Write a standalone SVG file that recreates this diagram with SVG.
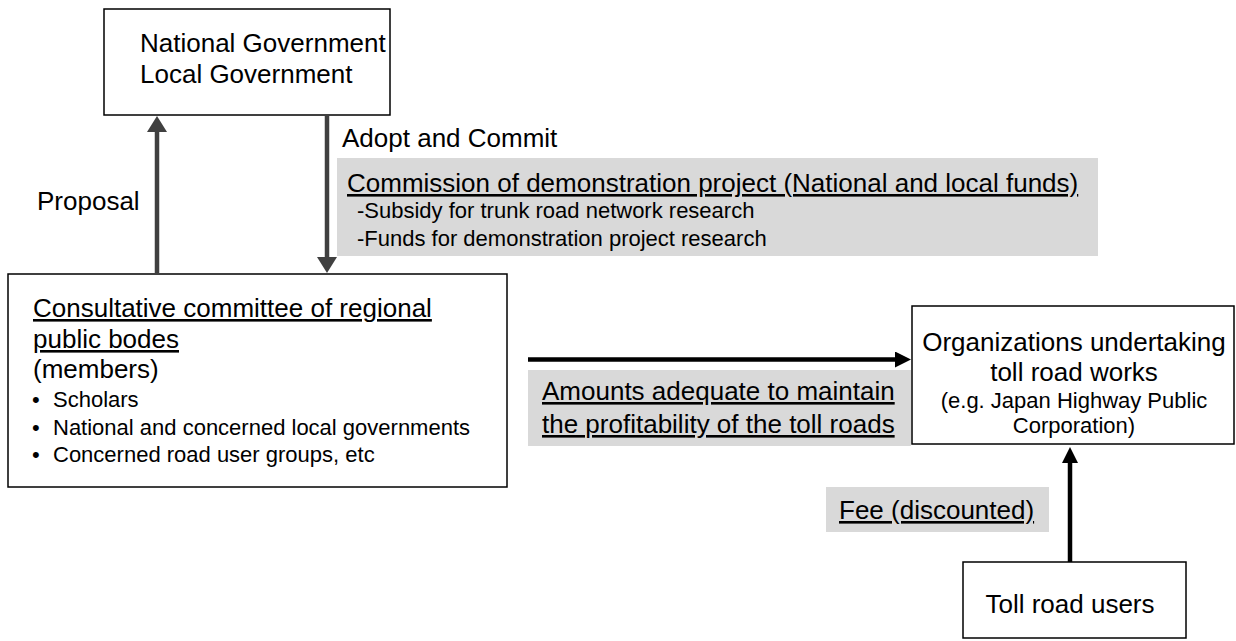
<svg xmlns="http://www.w3.org/2000/svg" width="1236" height="641" viewBox="0 0 1236 641">
<style>
text{font-family:"Liberation Sans",Arial,sans-serif;fill:#000}
.t26{font-size:26px}
.t22{font-size:22px}
.u{text-decoration:underline}
.box{fill:#fff;stroke:#000;stroke-width:1.5}
.gray{fill:#d9d9d9;stroke:none}
.dk{stroke:#404040;stroke-width:4.5;fill:none}
.bk{stroke:#000;stroke-width:4.5;fill:none}
</style>
<defs>
<marker id="ahDk" markerUnits="userSpaceOnUse" markerWidth="20" markerHeight="22" refX="6" refY="10" orient="auto">
<path d="M0,0 L16,10 L0,20 z" fill="#404040"/>
</marker>
<marker id="ahBk" markerUnits="userSpaceOnUse" markerWidth="20" markerHeight="18" refX="6" refY="8" orient="auto">
<path d="M0,0 L16,8 L0,16 z" fill="#000"/>
</marker>
</defs>

<g id="label-commission">
<rect class="gray" x="337" y="158" width="761" height="98"/>
<text class="t26 u" x="347" y="192">Commission of demonstration project (National and local funds)</text>
<text class="t22" x="357" y="218">-Subsidy for trunk road network research</text>
<text class="t22" x="357" y="246">-Funds for demonstration project research</text>
</g>
<g id="label-amounts">
<rect class="gray" x="528" y="370" width="383" height="76"/>
<text class="t26 u" x="542" y="400">Amounts adequate to maintain</text>
<text class="t26 u" x="542" y="433">the profitability of the toll roads</text>
</g>
<g id="label-fee">
<rect class="gray" x="826" y="487" width="223" height="45"/>
<text class="t26 u" x="839" y="519">Fee (discounted)</text>
</g>
<g id="label-proposal">
<text class="t26" x="37" y="210">Proposal</text>
</g>
<g id="label-adopt">
<text class="t26" x="342" y="147">Adopt and Commit</text>
</g>

<g id="government">
<rect class="box" x="104" y="9" width="286" height="106"/>
<text class="t26" x="140" y="52">National Government</text>
<text class="t26" x="140" y="83">Local Government</text>
</g>

<g id="committee">
<rect class="box" x="8" y="274" width="499" height="213"/>
<text class="t26 u" x="33" y="317">Consultative committee of regional</text>
<text class="t26 u" x="33" y="348">public bodes</text>
<text class="t26" x="33" y="378">(members)</text>
<text class="t22" x="32" y="407">•</text>
<text class="t22" x="53" y="407">Scholars</text>
<text class="t22" x="32" y="435">•</text>
<text class="t22" x="53" y="435">National and concerned local governments</text>
<text class="t22" x="32" y="462">•</text>
<text class="t22" x="53" y="462">Concerned road user groups, etc</text>
</g>

<g id="organizations">
<rect class="box" x="912" y="306" width="322" height="138"/>
<text class="t26" x="1074" y="351" text-anchor="middle">Organizations undertaking</text>
<text class="t26" x="1074" y="381" text-anchor="middle">toll road works</text>
<text class="t22" x="1074" y="408" text-anchor="middle">(e.g. Japan Highway Public</text>
<text class="t22" x="1074" y="433" text-anchor="middle">Corporation)</text>
</g>

<g id="users">
<rect class="box" x="963" y="562" width="223" height="76"/>
<text class="t26" x="1070" y="613" text-anchor="middle">Toll road users</text>
</g>

<g id="connectors">
<line class="dk" x1="157" y1="274" x2="157" y2="126" marker-end="url(#ahDk)"/>
<line class="dk" x1="327" y1="115" x2="327" y2="263" marker-end="url(#ahDk)"/>
<line class="bk" x1="528" y1="359.5" x2="901" y2="359.5" marker-end="url(#ahBk)"/>
<line class="bk" x1="1070" y1="562" x2="1070" y2="457" marker-end="url(#ahBk)"/>
</g>
</svg>
